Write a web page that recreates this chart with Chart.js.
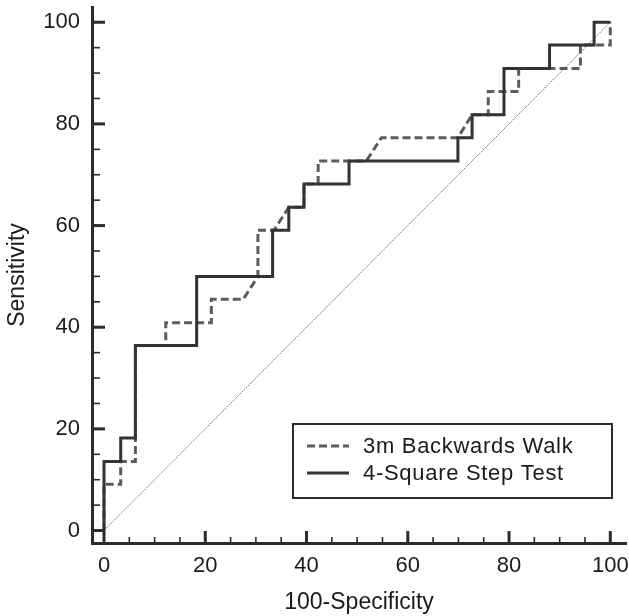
<!DOCTYPE html>
<html>
<head>
<meta charset="utf-8">
<script src="https://cdn.jsdelivr.net/npm/chart.js@4.4.1/dist/chart.umd.min.js"></script>
<style>
  body { margin: 0; background: #fff; }
  #wrap { width: 629px; height: 616px; position: relative; }
</style>
</head>
<body>
<div id="wrap"><canvas id="roc"></canvas></div>
<script>
// ROC curves (100-Specificity vs Sensitivity, %)
const walkX = [0, 0, 3.3, 3.3, 6.2, 6.2, 12.2, 12.2, 21.2, 21.2, 27.5, 30.4, 30.4, 33.6, 36.5, 39.5, 39.5, 42.3, 42.3, 51.8, 54.8, 69.9, 72.7, 75.9, 75.9, 81.9, 81.9, 94.1, 94.1, 100, 100];
const walkY = [0, 9.1, 9.1, 13.6, 13.6, 36.4, 36.4, 40.9, 40.9, 45.5, 45.5, 50, 59.1, 59.1, 63.6, 63.6, 68.2, 68.2, 72.7, 72.7, 77.3, 77.3, 81.8, 81.8, 86.4, 86.4, 90.9, 90.9, 95.5, 95.5, 100];

const stepX = [0, 0, 3.3, 3.3, 6.2, 6.2, 18.3, 18.3, 33.3, 33.3, 36.5, 36.5, 39.5, 39.5, 48.4, 48.4, 69.9, 69.9, 72.7, 72.7, 79.0, 79.0, 88.0, 88.0, 96.8, 96.8, 100];
const stepY = [0, 13.6, 13.6, 18.2, 18.2, 36.4, 36.4, 50, 50, 59.1, 59.1, 63.6, 63.6, 68.2, 68.2, 72.7, 72.7, 77.3, 77.3, 81.8, 81.8, 90.9, 90.9, 95.5, 95.5, 100, 100];

const chanceX = [0, 100];
const chanceY = [0, 100];

const tickValues = [0, 20, 40, 60, 80, 100];
const minorTickValues = [0, 5, 10, 15, 20, 25, 30, 35, 40, 45, 50, 55, 60, 65, 70, 75, 80, 85, 90, 95, 100];

const seriesNames = ['3m Backwards Walk', '4-Square Step Test'];

const toPoints = (xs, ys) => xs.map((x, i) => ({ x, y: ys[i] }));

const INK = '#2b2b2b';
const DASH_COLOR = '#5c5c5c';
const SOLID_COLOR = '#333333';

Chart.defaults.font.family = '"Liberation Sans", Arial, sans-serif';
Chart.defaults.color = '#1a1a1a';

// inward tick marks on both axes
const innerTicks = {
  id: 'innerTicks',
  afterDraw(chart) {
    const { ctx, chartArea: a, scales } = chart;
    ctx.save();
    ctx.strokeStyle = INK;
    minorTickValues.forEach(v => {
      const major = tickValues.includes(v);
      ctx.lineWidth = major ? 3 : 1.6;
      const px = scales.x.getPixelForValue(v);
      ctx.beginPath();
      ctx.moveTo(px, a.bottom);
      ctx.lineTo(px, a.bottom - (major ? 12 : 6));
      ctx.stroke();
      const py = scales.y.getPixelForValue(v);
      ctx.beginPath();
      ctx.moveTo(a.left, py);
      ctx.lineTo(a.left + (major ? 13 : 8), py);
      ctx.stroke();
    });
    ctx.restore();
  }
};

// boxed legend in the lower right of the plot
const boxLegend = {
  id: 'boxLegend',
  afterDraw(chart) {
    const { ctx, chartArea: a } = chart;
    const left = a.right - 333, top = a.bottom - 119;
    const w = 319, h = 74;
    ctx.save();
    ctx.fillStyle = '#fff';
    ctx.fillRect(left, top, w, h);
    ctx.strokeStyle = INK;
    ctx.lineWidth = 2;
    ctx.strokeRect(left, top, w, h);

    const rows = [top + 22, top + 49];
    const styles = [
      { color: DASH_COLOR, dash: [8, 4] },
      { color: SOLID_COLOR, dash: [] }
    ];
    ctx.font = '22px "Liberation Sans", Arial, sans-serif';
    ctx.textBaseline = 'middle';
    ctx.fillStyle = '#1a1a1a';
    if ('letterSpacing' in ctx) ctx.letterSpacing = '0.7px';
    rows.forEach((ry, i) => {
      ctx.strokeStyle = styles[i].color;
      ctx.lineWidth = 3;
      ctx.setLineDash(styles[i].dash);
      ctx.beginPath();
      ctx.moveTo(left + 14, ry);
      ctx.lineTo(left + 56, ry);
      ctx.stroke();
      ctx.setLineDash([]);
      ctx.fillText(seriesNames[i], left + 70, ry + 1);
    });
    ctx.restore();
  }
};

new Chart(document.getElementById('roc'), {
  type: 'scatter',
  data: {
    datasets: [
      {
        label: seriesNames[1],
        data: toPoints(stepX, stepY),
        showLine: true,
        borderColor: SOLID_COLOR,
        borderWidth: 3,
        pointRadius: 0,
        tension: 0,
        order: 0
      },
      {
        label: seriesNames[0],
        data: toPoints(walkX, walkY),
        showLine: true,
        borderColor: DASH_COLOR,
        borderWidth: 3,
        borderDash: [8, 4],
        pointRadius: 0,
        tension: 0,
        order: 1
      },
      {
        label: 'chance',
        data: toPoints(chanceX, chanceY),
        showLine: true,
        borderColor: '#7a7a7a',
        borderWidth: 1,
        borderDash: [2, 1],
        pointRadius: 0,
        order: 2
      }
    ]
  },
  options: {
    responsive: true,
    maintainAspectRatio: false,
    animation: false,
    layout: { padding: { top: 7, right: 3, left: 0, bottom: 0 } },
    plugins: {
      legend: { display: false },
      tooltip: { enabled: false }
    },
    scales: {
      x: {
        type: 'linear',
        min: -2.37,
        max: 103.1,
        afterBuildTicks: s => { s.ticks = tickValues.map(v => ({ value: v })); },
        afterFit: s => { s.height = 73; s.paddingLeft = 0; s.paddingRight = 0; },
        grid: { display: true, drawOnChartArea: false, drawTicks: false },
        border: { display: true, color: INK, width: 3 },
        ticks: { font: { size: 22 }, padding: 10, maxRotation: 0, color: '#1a1a1a' },
        title: { display: true, text: '100-Specificity', font: { size: 23 }, padding: { bottom: 0, top: 0 }, color: '#1a1a1a' }
      },
      y: {
        type: 'linear',
        min: -2.45,
        max: 103,
        afterBuildTicks: s => { s.ticks = tickValues.map(v => ({ value: v })); },
        afterFit: s => { s.width = 92; s.paddingTop = 0; s.paddingBottom = 0; },
        grid: { display: true, drawOnChartArea: false, drawTicks: false },
        border: { display: true, color: INK, width: 3 },
        ticks: { font: { size: 22 }, padding: 12, color: '#1a1a1a' },
        title: { display: true, text: 'Sensitivity', font: { size: 23 }, padding: { top: 4, bottom: 0 }, color: '#1a1a1a' }
      }
    }
  },
  plugins: [innerTicks, boxLegend]
});
</script>
</body>
</html>
